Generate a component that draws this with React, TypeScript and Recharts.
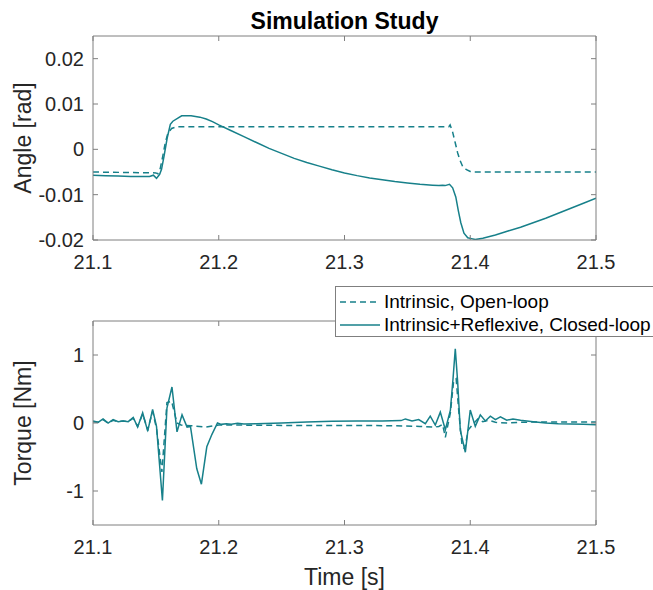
import { LineChart, Line, XAxis, YAxis, Legend, Label } from 'recharts';

// tick positions
const timeTicks = [21.1, 21.2, 21.3, 21.4, 21.5];
const angleTicks = [-0.02, -0.01, 0, 0.01, 0.02];
const torqueTicks = [-1, 0, 1];

// [time s, angle rad]
const angleOpen = [
  [21.1, -0.005], [21.15, -0.0052], [21.1515, -0.0054], [21.1535, -0.0042], [21.1555, -0.0015],
  [21.1575, 0.0015], [21.1595, 0.0035], [21.1625, 0.0046], [21.167, 0.005], [21.383, 0.005],
  [21.384, 0.0054], [21.386, 0.0038], [21.388, 0.0015], [21.39, -0.0008], [21.392, -0.0025],
  [21.394, -0.0038], [21.397, -0.0045], [21.4, -0.0049], [21.403, -0.005], [21.5, -0.005],
];

const angleClosed = [
  [21.1, -0.0057], [21.11, -0.0058], [21.12, -0.0059], [21.13, -0.006], [21.14, -0.006],
  [21.145, -0.006], [21.148, -0.0057], [21.1505, -0.0064], [21.153, -0.0055], [21.1545, -0.0044],
  [21.1565, -0.0015], [21.159, 0.0025], [21.1615, 0.0055], [21.1635, 0.0062], [21.1705, 0.0074],
  [21.178, 0.0074], [21.185, 0.0071], [21.19, 0.0067], [21.195, 0.0061], [21.2, 0.0054],
  [21.21, 0.0041], [21.22, 0.0028], [21.23, 0.0015], [21.24, 0.0002], [21.25, -0.0009],
  [21.26, -0.002], [21.27, -0.0029], [21.28, -0.0037], [21.29, -0.0045], [21.3, -0.0052],
  [21.31, -0.0058], [21.32, -0.0063], [21.33, -0.0067], [21.34, -0.0071], [21.35, -0.0074],
  [21.36, -0.0077], [21.37, -0.0079], [21.375, -0.008], [21.378, -0.0079], [21.38, -0.008],
  [21.3835, -0.0077], [21.386, -0.0085], [21.3885, -0.0105], [21.3905, -0.0135], [21.3925, -0.0162],
  [21.395, -0.0185], [21.398, -0.0195], [21.401, -0.0197], [21.404, -0.0199], [21.41, -0.0196],
  [21.42, -0.0189], [21.43, -0.018], [21.44, -0.0172], [21.45, -0.0162], [21.46, -0.0152],
  [21.47, -0.0141], [21.48, -0.013], [21.49, -0.0119], [21.5, -0.0108],
];

// [time s, torque Nm]
const torqueOpen = [
  [21.1, 0.02], [21.104, 0.01], [21.108, 0.05], [21.112, 0.0], [21.116, 0.04], [21.12, 0.02],
  [21.124, 0.03], [21.128, 0.02], [21.132, 0.07], [21.1355, -0.05], [21.1395, 0.13], [21.1435, -0.1],
  [21.1474, 0.17], [21.1505, -0.08], [21.1548, -0.72], [21.1588, 0.3], [21.1625, 0.32], [21.1668, 0.0],
  [21.17, -0.03], [21.178, -0.04], [21.19, -0.06], [21.2, -0.03], [21.21, -0.03], [21.25, -0.035],
  [21.3, -0.035], [21.34, -0.04], [21.36, -0.05], [21.37, -0.06], [21.375, -0.05], [21.378, -0.02],
  [21.3802, -0.21], [21.3842, 0.15], [21.3868, 0.62], [21.3888, 0.65], [21.3912, 0.1], [21.3935, -0.33],
  [21.3955, -0.38], [21.3985, -0.1], [21.402, -0.02], [21.406, 0.06], [21.41, 0.02], [21.415, 0.04],
  [21.42, 0.01], [21.43, 0.0], [21.44, 0.01], [21.45, 0.015], [21.5, 0.015],
];

const torqueClosed = [
  [21.1, 0.03], [21.104, 0.01], [21.108, 0.06], [21.112, 0.0], [21.116, 0.05], [21.12, 0.02],
  [21.124, 0.03], [21.128, 0.02], [21.132, 0.08], [21.1355, -0.06], [21.1395, 0.15], [21.1435, -0.12],
  [21.1474, 0.2], [21.1505, -0.05], [21.1552, -1.14], [21.1588, 0.22], [21.1628, 0.53], [21.1668, -0.13],
  [21.1708, 0.12], [21.1748, -0.06], [21.1775, -0.05], [21.1825, -0.67], [21.1862, -0.9], [21.1905, -0.35],
  [21.1945, -0.17], [21.199, 0.0], [21.202, -0.02], [21.206, -0.01], [21.21, -0.02], [21.215, -0.005],
  [21.22, -0.015], [21.23, -0.01], [21.25, 0.0], [21.27, 0.015], [21.29, 0.025], [21.31, 0.03],
  [21.33, 0.03], [21.345, 0.035], [21.3484, 0.06], [21.3537, 0.03], [21.359, 0.05], [21.3643, -0.01],
  [21.3682, 0.1], [21.3722, -0.03], [21.3762, 0.16], [21.3802, -0.1], [21.3842, 0.19], [21.3863, 0.65],
  [21.3881, 1.09], [21.39, 0.6], [21.3921, -0.11], [21.3961, -0.43], [21.4, 0.19], [21.404, -0.05],
  [21.408, 0.12], [21.412, 0.03], [21.416, 0.1], [21.42, 0.05], [21.424, 0.09], [21.429, 0.04],
  [21.434, 0.06], [21.44, 0.04], [21.45, 0.02], [21.46, 0.0], [21.47, -0.01], [21.48, -0.015],
  [21.49, -0.02], [21.5, -0.025],
];

const seriesNames = ['Intrinsic, Open-loop', 'Intrinsic+Reflexive, Closed-loop'];

const toPts = (arr: number[][]) => arr.map(([t, v]) => ({ t, v }));

const TEAL = '#17808a';
const AXIS = '#7f7f7f';
const TXT = '#262626';
const FONT = '"Liberation Sans", Arial, Helvetica, sans-serif';
const DASH = '6 4';

const tickStyle = { fill: TXT, fontSize: 20 };
const noLabel = () => '';

const LegendBox = (props: any) => {
  // keep plotting order (recharts sorts by name otherwise)
  const items = [...(props.payload || [])].sort(
    (a: any, b: any) => seriesNames.indexOf(a.value) - seriesNames.indexOf(b.value)
  );
  return (
    <div style={{
      boxSizing: 'border-box', width: 330, height: 51, border: `1px solid ${AXIS}`,
      background: '#fff', padding: '3px 0 0 4px', fontFamily: FONT,
    }}>
      {items.map((it: any, i: number) => (
        <div key={i} style={{ display: 'flex', alignItems: 'center', height: 23 }}>
          <svg width={40} height={10} style={{ marginRight: 4 }}>
            <line x1={0} y1={5} x2={40} y2={5} stroke={TEAL} strokeWidth={1.5}
              strokeDasharray={it.value === seriesNames[0] ? DASH : undefined} />
          </svg>
          <span style={{ fontSize: 19, color: '#000', whiteSpace: 'nowrap', lineHeight: '23px' }}>{it.value}</span>
        </div>
      ))}
    </div>
  );
};

function Panel({ top, height, margin, bottomHeight, yDomain, yTicks, yLabel, openData, closedData, title, xLabel, legend }: any) {
  return (
    <div style={{ position: 'absolute', left: 0, top }}>
      <LineChart width={653} height={height} margin={margin}>
        <XAxis xAxisId="b" dataKey="t" type="number" domain={[21.1, 21.5]} ticks={timeTicks}
          allowDataOverflow interval={0} tickFormatter={(v: number) => v.toFixed(1)}
          tickSize={-5} tickMargin={20} height={bottomHeight} stroke={AXIS} tick={tickStyle}>
          {xLabel && <Label value={xLabel} position="bottom" offset={0} style={{ fontSize: 23, fill: TXT }} />}
        </XAxis>
        <XAxis xAxisId="t" orientation="top" dataKey="t" type="number" domain={[21.1, 21.5]} ticks={timeTicks}
          allowDataOverflow interval={0} tickFormatter={noLabel} tickSize={-5} height={1} stroke={AXIS}>
          {title && <Label value={title} position="top" offset={6} style={{ fontSize: 23, fontWeight: 'bold', fill: '#000' }} />}
        </XAxis>
        <YAxis yAxisId="l" type="number" domain={yDomain} ticks={yTicks} allowDataOverflow interval={0}
          tickSize={-5} tickMargin={14} width={93} stroke={AXIS} tick={tickStyle}>
          <Label value={yLabel} angle={-90} position="center" dx={-24} style={{ fontSize: 23, fill: TXT }} />
        </YAxis>
        <YAxis yAxisId="r" orientation="right" type="number" domain={yDomain} ticks={yTicks} allowDataOverflow
          interval={0} tickFormatter={noLabel} tickSize={-5} width={1} stroke={AXIS} />
        <Line xAxisId="b" yAxisId="l" data={toPts(openData)} dataKey="v" name={seriesNames[0]} type="linear"
          stroke={TEAL} strokeWidth={1.5} strokeDasharray={DASH} dot={false} isAnimationActive={false} />
        <Line xAxisId="b" yAxisId="l" data={toPts(closedData)} dataKey="v" name={seriesNames[1]} type="linear"
          stroke={TEAL} strokeWidth={1.5} dot={false} isAnimationActive={false} />
        {legend && (
          <Legend layout="vertical" align="center" verticalAlign="middle"
            wrapperStyle={{ left: 335, top: -4, width: 330 }} content={<LegendBox />} />
        )}
      </LineChart>
    </div>
  );
}

export default function App() {
  return (
    <div style={{
      position: 'absolute', left: 0, top: 0, width: 653, height: 590, overflow: 'hidden',
      background: '#fff', fontFamily: FONT,
    }}>
      <Panel top={0} height={290} margin={{ top: 35, right: 56, bottom: 10, left: 0 }} bottomHeight={40}
        yDomain={[-0.02, 0.025]} yTicks={angleTicks} yLabel="Angle [rad]"
        openData={angleOpen} closedData={angleClosed} title="Simulation Study" />
      <Panel top={290} height={300} margin={{ top: 30, right: 56, bottom: 21, left: 0 }} bottomHeight={44}
        yDomain={[-1.5, 1.5]} yTicks={torqueTicks} yLabel="Torque [Nm]"
        openData={torqueOpen} closedData={torqueClosed} xLabel="Time [s]" legend />
    </div>
  );
}
